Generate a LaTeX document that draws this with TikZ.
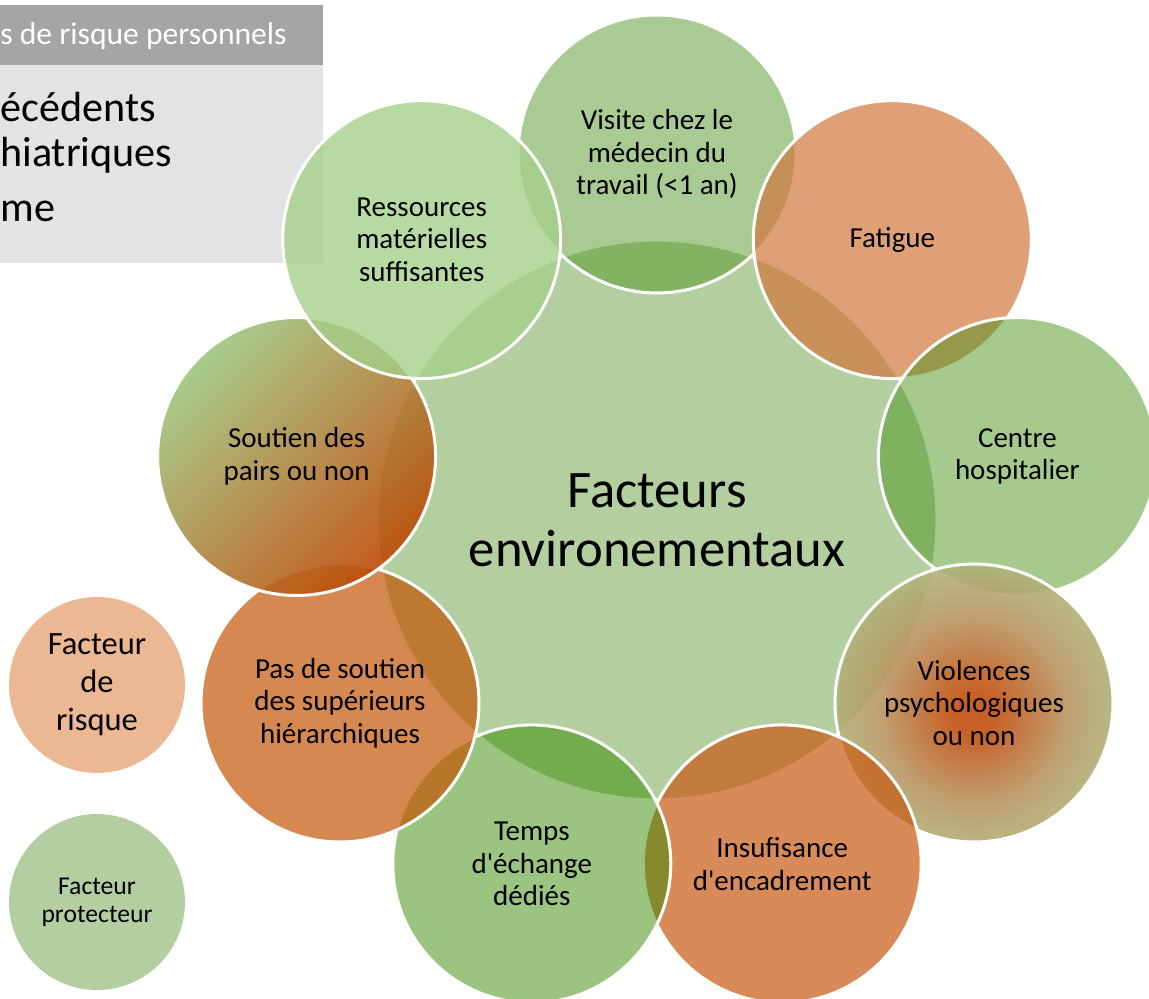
\documentclass[tikz,border=0pt]{standalone}
\usepackage{fontspec}
\setmainfont{Carlito}[Ligatures=TeXOff]
\definecolor{cCenter}{RGB}{103,159,65}
\definecolor{cVisite}{RGB}{83,151,39}
\definecolor{cFatigue}{RGB}{209,119,61}
\definecolor{cCentre}{RGB}{77,147,29}
\definecolor{cInsuf}{RGB}{201,89,19}
\definecolor{cTemps}{RGB}{53,137,0}
\definecolor{cPas}{RGB}{195,86,4}
\definecolor{cRess}{RGB}{165,208,139}
\definecolor{vInner}{RGB}{194,80,16}
\definecolor{vMid}{RGB}{185,150,100}
\definecolor{vOuter}{RGB}{170,192,128}
\definecolor{sGreen}{RGB}{158,198,127}
\definecolor{sOrange}{RGB}{189,74,5}
\definecolor{legRisk}{RGB}{236,184,147}
\definecolor{legProt}{RGB}{179,206,161}
\definecolor{boxHead}{RGB}{165,165,165}
\definecolor{boxBody}{RGB}{227,227,227}
\pgfdeclareradialshading{violrad}{\pgfpoint{0bp}{-2bp}}{color(0bp)=(vInner); color(4bp)=(vInner); color(17bp)=(vMid); color(30bp)=(vOuter); color(50bp)=(vOuter)}
\begin{document}
\begin{tikzpicture}[x=0.02cm,y=-0.02cm,
  sat/.style={circle, minimum size=5.56cm, inner sep=0pt, draw=white, line width=0.06cm,
    align=center, text=black, text opacity=1, font=\fontsize{16.5}{18.5}\selectfont},
  gsat/.style={sat, fill=#1, fill opacity=0.5},
  osat/.style={sat, fill=#1, fill opacity=0.7},
  legend/.style={circle, minimum size=3.52cm, inner sep=0pt, align=center, text=black}
]
\useasboundingbox (0,0) rectangle (1149,999);
% personal risk factors box (partly cut)
\fill[boxBody] (0,65) rectangle (323,263);
\fill[boxHead] (0,5) rectangle (323,65);
\node[anchor=base west, inner sep=0pt, text=white, font=\fontsize{18}{22}\selectfont] (hd) at (0,45) {s de risque personnels};
\node[anchor=base west, inner sep=0pt, font=\fontsize{24}{29}\selectfont] (b1) at (0,122) {écédents};
\node[anchor=base west, inner sep=0pt, font=\fontsize{24}{29}\selectfont] (b2) at (0,167) {hiatriques};
\node[anchor=base west, inner sep=0pt, font=\fontsize{24}{29}\selectfont] (b3) at (0,222) {me};
% central circle
\node[gsat=cCenter, minimum size=11.2cm, font=\fontsize{30}{33.5}\selectfont] (c) at (657,520) {Facteurs\\environementaux};
% satellites
\node[gsat=cVisite] (visite) at (657,154) {Visite chez le\\médecin du\\travail (<1 an)};
\node[osat=cFatigue] (fatigue) at (892.3,239.6) {Fatigue};
\node[gsat=cCentre] (centre) at (1017.4,456.5) {Centre\\hospitalier};
\node[sat, shade, shading=violrad, fill opacity=0.9] (viol) at (974,703) {Violences\\psychologiques\\ou non};
\node[osat=cInsuf] (insuf) at (782.2,863.9) {Insufisance\\d'encadrement};
\node[gsat=cTemps] (temps) at (531.8,863.9) {Temps\\d'échange\\dédiés};
\node[osat=cPas] (pas) at (340,703) {Pas de soutien\\des supérieurs\\hiérarchiques};
\node[sat, top color=sGreen, bottom color=sOrange, shading angle=45, fill opacity=0.9] (soutien) at (296.6,456.5) {Soutien des\\pairs ou non};
\node[sat, fill=cRess, fill opacity=0.8] (ress) at (421.7,239.6) {Ressources\\matérielles\\suffisantes};
% legend
\node[legend, fill=legRisk, font=\fontsize{18.5}{21.6}\selectfont] (lrisk) at (97,685) {Facteur\\de\\risque};
\node[legend, fill=legProt, font=\fontsize{14.6}{16}\selectfont] (lprot) at (97,902) {Facteur\\protecteur};
\end{tikzpicture}
\end{document}
